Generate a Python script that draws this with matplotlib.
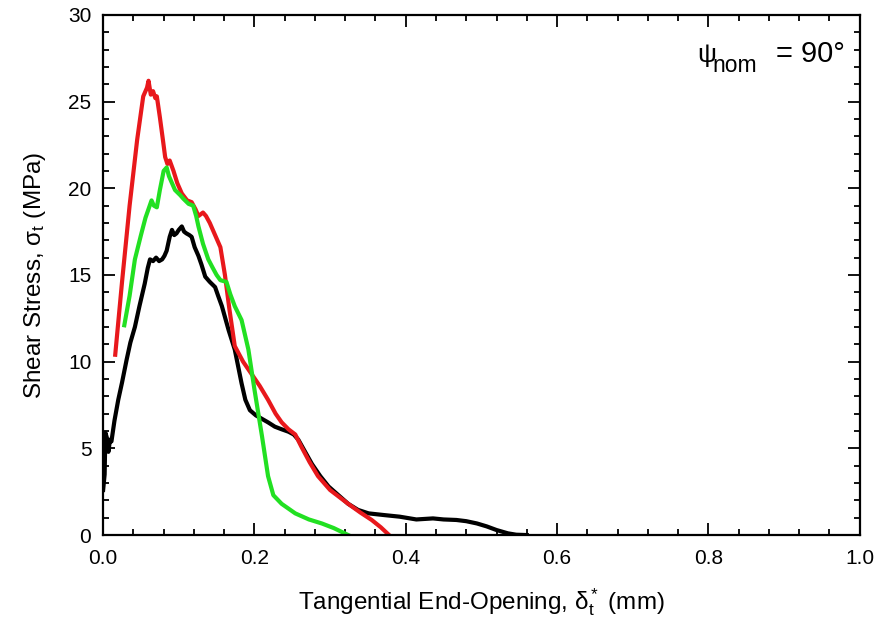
import numpy as np
import matplotlib.pyplot as plt
from matplotlib.ticker import MultipleLocator

plt.rcParams['font.family'] = ['Liberation Sans', 'DejaVu Sans']
plt.rcParams['mathtext.fontset'] = 'custom'
plt.rcParams['mathtext.rm'] = 'Liberation Sans'
plt.rcParams['mathtext.it'] = 'Liberation Sans:italic'

# curves: (opening mm, shear stress MPa)
red_x = [0.016, 0.025, 0.035, 0.045, 0.053, 0.058, 0.060, 0.063, 0.066, 0.069,
         0.071, 0.075, 0.079, 0.082, 0.085, 0.088, 0.093, 0.098, 0.104, 0.111,
         0.117, 0.122, 0.126, 0.132, 0.136, 0.141, 0.148, 0.155, 0.161, 0.167,
         0.174, 0.185, 0.196, 0.207, 0.218, 0.228, 0.236, 0.245, 0.254, 0.262,
         0.273, 0.284, 0.300, 0.312, 0.324, 0.340, 0.355, 0.367, 0.378]
red_y = [10.4, 14.6, 19.0, 22.8, 25.3, 25.8, 26.2, 25.4, 25.6, 25.2,
         25.3, 24.1, 22.8, 21.8, 21.4, 21.6, 21.0, 20.3, 19.7, 19.3,
         19.2, 18.8, 18.4, 18.6, 18.4, 18.0, 17.3, 16.6, 15.0, 13.0,
         10.9, 10.0, 9.3, 8.6, 7.8, 7.0, 6.5, 6.1, 5.8, 5.1,
         4.2, 3.4, 2.6, 2.2, 1.8, 1.3, 0.87, 0.45, 0.0]

green_x = [0.028, 0.035, 0.042, 0.050, 0.056, 0.060, 0.064, 0.067, 0.071, 0.075,
           0.080, 0.084, 0.087, 0.090, 0.095, 0.102, 0.106, 0.113, 0.119, 0.123,
           0.126, 0.132, 0.139, 0.145, 0.150, 0.155, 0.163, 0.168, 0.174, 0.183,
           0.192, 0.200, 0.210, 0.218, 0.225, 0.236, 0.254, 0.272, 0.289, 0.305,
           0.324]
green_y = [12.1, 13.8, 15.9, 17.3, 18.3, 18.8, 19.3, 19.0, 18.9, 19.9,
           21.0, 21.2, 20.7, 20.4, 19.9, 19.6, 19.4, 19.1, 19.0, 18.4,
           17.8, 16.8, 15.9, 15.4, 15.0, 14.7, 14.6, 13.9, 13.2, 12.4,
           10.7, 8.4, 5.7, 3.4, 2.3, 1.8, 1.25, 0.9, 0.67, 0.4,
           0.0]

black_x = [0.000, 0.002, 0.003, 0.005, 0.007, 0.009, 0.011, 0.015, 0.020, 0.025,
           0.031, 0.036, 0.042, 0.048, 0.055, 0.059, 0.062, 0.066, 0.070, 0.074,
           0.078, 0.081, 0.084, 0.088, 0.091, 0.094, 0.097, 0.100, 0.104, 0.107,
           0.110, 0.114, 0.117, 0.121, 0.126, 0.130, 0.135, 0.141, 0.148, 0.152,
           0.157, 0.166, 0.174, 0.183, 0.188, 0.194, 0.202, 0.210, 0.218, 0.227,
           0.236, 0.245, 0.252, 0.258, 0.267, 0.276, 0.287, 0.298, 0.311, 0.324,
           0.337, 0.351, 0.372, 0.392, 0.414, 0.436, 0.450, 0.467, 0.480, 0.494,
           0.507, 0.520, 0.535, 0.546, 0.560]
black_y = [2.6, 3.5, 5.9, 5.6, 4.8, 5.5, 5.4, 6.6, 7.8, 8.8,
           10.1, 11.1, 12.0, 13.2, 14.5, 15.4, 15.9, 15.8, 16.0, 15.8,
           15.9, 16.1, 16.4, 17.2, 17.6, 17.3, 17.4, 17.6, 17.8, 17.5,
           17.4, 17.3, 17.2, 16.6, 16.1, 15.6, 14.9, 14.6, 14.3, 13.8,
           13.2, 11.8, 10.7, 8.75, 7.8, 7.2, 6.9, 6.7, 6.5, 6.25,
           6.1, 5.96, 5.8, 5.5, 4.8, 4.1, 3.4, 2.8, 2.3, 1.8,
           1.45, 1.25, 1.15, 1.06, 0.9, 0.96, 0.9, 0.87, 0.8, 0.67,
           0.5, 0.29, 0.1, 0.02, 0.0]

fig = plt.figure(figsize=(8.89, 6.2), dpi=100)
ax = fig.add_axes([0.116, 0.137, 0.851, 0.839])

ax.plot(black_x, black_y, color='black', lw=3.0)
ax.plot(red_x, red_y, color='#e8181c', lw=3.0)
ax.plot(green_x, green_y, color='#22e022', lw=3.0)

ax.set_xlim(0, 1.0)
ax.set_ylim(0, 30)
ax.xaxis.set_major_locator(MultipleLocator(0.2))
ax.xaxis.set_minor_locator(MultipleLocator(0.04))
ax.yaxis.set_major_locator(MultipleLocator(5))
ax.yaxis.set_minor_locator(MultipleLocator(1))
ax.xaxis.set_major_formatter(plt.FuncFormatter(lambda v, p: '%.1f' % v))
ax.tick_params(which='both', direction='in', top=True, right=True, labelsize=15, width=1.3)
ax.tick_params(which='major', length=8.5)
ax.tick_params(which='minor', length=4.5)
ax.tick_params(axis='x', which='major', pad=10)
ax.tick_params(axis='y', which='major', pad=8.5)
for s in ax.spines.values():
    s.set_linewidth(1.6)

ax.set_xlabel(r'Tangential End-Opening, δ$_\mathrm{t}^*$ (mm)', fontsize=17.5, labelpad=13)
ax.set_ylabel(r'Shear Stress, σ$_\mathrm{t}$ (MPa)', fontsize=17.5, labelpad=14)

# annotation pieces: psi, subscript, value
ax.text(0.785, 0.9096, 'ψ', transform=ax.transAxes, ha='left', va='baseline', fontsize=19)
ax.text(0.806, 0.890, 'nom', transform=ax.transAxes, ha='left', va='baseline', fontsize=16.5)
ax.text(0.980, 0.9096, '= 90°', transform=ax.transAxes, ha='right', va='baseline', fontsize=21)

plt.savefig('out.png', dpi=100)
